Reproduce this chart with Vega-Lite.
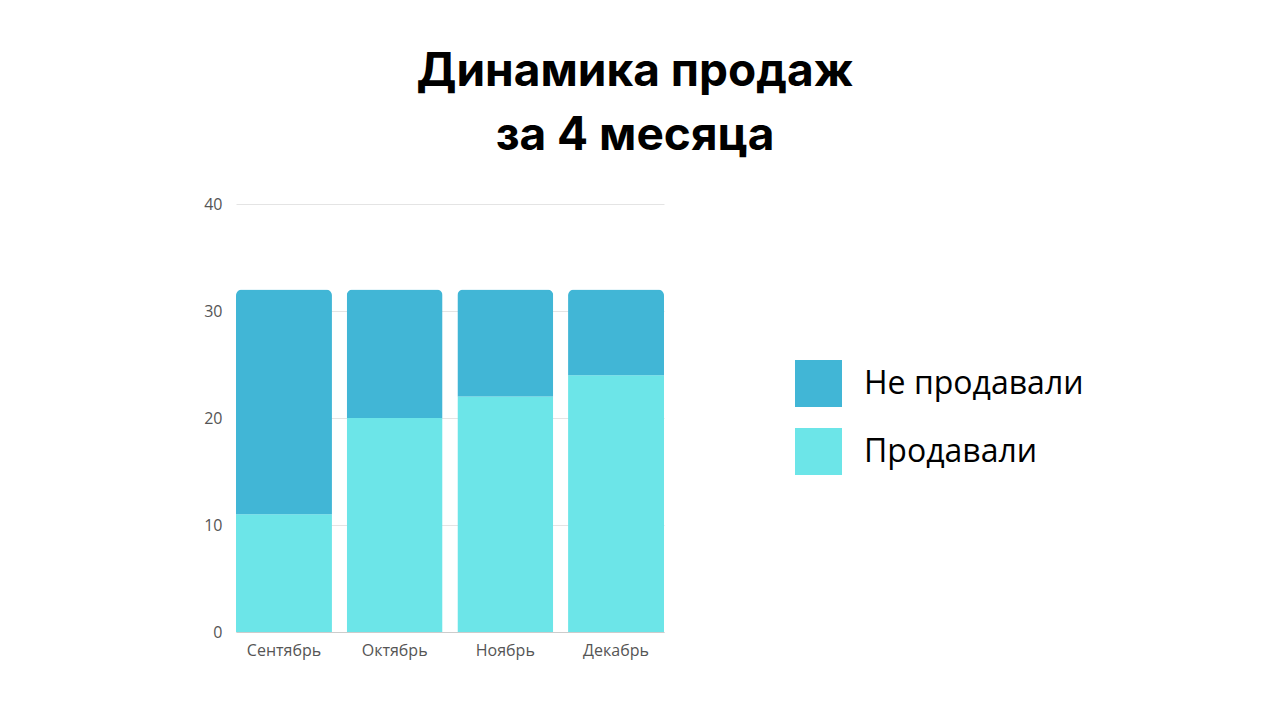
{
  "$schema": "https://vega.github.io/schema/vega-lite/v6.json",
  "width": 428,
  "height": 428,
  "autosize": {"type": "none"},
  "padding": {"left": 236, "top": 204, "right": 616, "bottom": 88},
  "background": "#ffffff",
  "title": {
    "text": ["Динамика продаж", "за 4 месяца"],
    "font": "Inter",
    "fontSize": 46,
    "fontWeight": "bold",
    "color": "#000000",
    "lineHeight": 64,
    "anchor": "middle",
    "dx": 185,
    "offset": 36
  },
  "data": {
    "values": [
      {"month": "Сентябрь", "status": "Продавали", "count": 11},
      {"month": "Сентябрь", "status": "Не продавали", "count": 21},
      {"month": "Октябрь", "status": "Продавали", "count": 20},
      {"month": "Октябрь", "status": "Не продавали", "count": 12},
      {"month": "Ноябрь", "status": "Продавали", "count": 22},
      {"month": "Ноябрь", "status": "Не продавали", "count": 10},
      {"month": "Декабрь", "status": "Продавали", "count": 24},
      {"month": "Декабрь", "status": "Не продавали", "count": 8}
    ]
  },
  "mark": {"type": "bar", "cornerRadiusTopLeft": 6, "cornerRadiusTopRight": 6},
  "encoding": {
    "x": {
      "field": "month",
      "type": "nominal",
      "sort": ["Сентябрь", "Октябрь", "Ноябрь", "Декабрь"],
      "scale": {"paddingInner": 0.133, "paddingOuter": 0},
      "axis": {
        "title": null,
        "labelAngle": 0,
        "labelFont": "Open Sans",
        "labelFontSize": 16,
        "labelColor": "#555555",
        "labelPadding": 10,
        "ticks": false,
        "domain": true,
        "domainColor": "#cccccc",
        "grid": false
      }
    },
    "y": {
      "field": "count",
      "type": "quantitative",
      "stack": "zero",
      "scale": {"domain": [0, 40]},
      "axis": {
        "title": null,
        "values": [0, 10, 20, 30, 40],
        "labelFont": "Open Sans",
        "labelFontSize": 16,
        "labelColor": "#555555",
        "labelPadding": 14,
        "ticks": false,
        "domain": false,
        "gridColor": "#e4e4e4"
      }
    },
    "color": {
      "field": "status",
      "type": "nominal",
      "scale": {"domain": ["Не продавали", "Продавали"], "range": ["#41B6D6", "#6CE5E8"]},
      "legend": {
        "title": null,
        "orient": "none",
        "legendX": 559,
        "legendY": 156,
        "symbolType": "square",
        "symbolSize": 2209,
        "symbolStrokeWidth": 0,
        "symbolOpacity": 1,
        "labelFont": "Open Sans",
        "labelFontSize": 32,
        "labelLimit": 500,
        "labelColor": "#000000",
        "labelOffset": 22,
        "rowPadding": 21
      }
    },
    "order": {"field": "status", "sort": "descending"}
  },
  "config": {"view": {"stroke": null}}
}
